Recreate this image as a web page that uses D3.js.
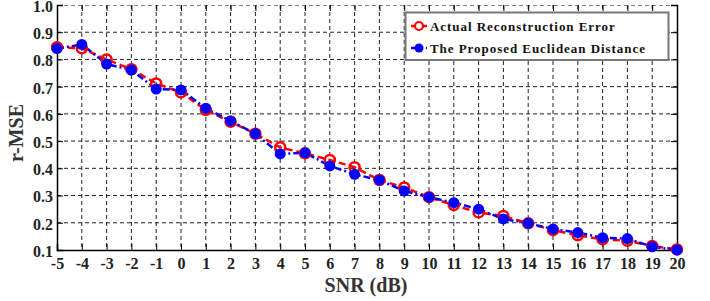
<!DOCTYPE html>
<html><head><meta charset="utf-8">
<script src="https://cdn.jsdelivr.net/npm/d3@7"></script>
<style>body{margin:0;background:#fff}svg{display:block}</style>
</head><body>
<script>
const snr = [-5,-4,-3,-2,-1,0,1,2,3,4,5,6,7,8,9,10,11,12,13,14,15,16,17,18,19,20];
const actual = [0.845,0.841,0.800,0.764,0.712,0.679,0.614,0.571,0.527,0.477,0.455,0.431,0.404,0.357,0.330,0.294,0.265,0.238,0.225,0.198,0.173,0.154,0.139,0.134,0.115,0.102];
const proposed = [0.840,0.855,0.783,0.761,0.691,0.688,0.621,0.574,0.527,0.453,0.457,0.409,0.378,0.357,0.317,0.294,0.274,0.250,0.214,0.198,0.177,0.164,0.145,0.142,0.112,0.100];
const yTicks = [0.1,0.2,0.3,0.4,0.5,0.6,0.7,0.8,0.9,1.0];
const seriesNames = ["Actual Reconstruction Error","The Proposed Euclidean Distance"];

const W=710,H=301, L=57, R=677, T=5, B=250;
const svg=d3.select("body").append("svg").attr("width",W).attr("height",H);
const x=d3.scaleLinear().domain([-5,20]).range([L,R]);
const y=d3.scaleLinear().domain([0.1,1.0]).range([B,T]);
const font="'Liberation Serif','Times New Roman',serif";

// grid
const g=svg.append("g");
g.selectAll(".vg").data(snr.slice(1,-1)).join("line")
 .attr("x1",d=>x(d)).attr("x2",d=>x(d)).attr("y1",T).attr("y2",B)
 .attr("stroke","#222").attr("stroke-width",1).attr("stroke-dasharray","4,3");
g.selectAll(".hg").data(yTicks.slice(1,-1)).join("line")
 .attr("x1",L).attr("x2",R).attr("y1",d=>y(d)).attr("y2",d=>y(d))
 .attr("stroke","#222").attr("stroke-width",1).attr("stroke-dasharray","4,3");
// top border dashed gray
g.append("line").attr("x1",L).attr("x2",R).attr("y1",T+0.5).attr("y2",T+0.5)
 .attr("stroke","#888").attr("stroke-dasharray","4,3");

// axes
const xAxis=d3.axisBottom(x).tickValues(snr).tickSize(-6).tickFormat(d=>d<0?"-"+Math.abs(d):d);
const yAxis=d3.axisLeft(y).tickValues(yTicks).tickSize(-6).tickFormat(d3.format(".1f"));
const gx=svg.append("g").attr("transform",`translate(0,${B})`).call(xAxis);
const gy=svg.append("g").attr("transform",`translate(${L},0)`).call(yAxis);
[gx,gy].forEach(a=>{
  a.select(".domain").attr("stroke","#000").attr("stroke-width",1.5);
  a.selectAll(".tick line").attr("stroke","#000").attr("stroke-width",1);
  a.selectAll("text").attr("font-family",font).attr("font-weight","bold").attr("font-size",16).attr("fill","#222");
});
gx.selectAll("text").attr("dy","0.95em").attr("y",4);
gy.selectAll("text").attr("x",-4).attr("dy","0.4em");
// top ticks and right axis
svg.append("g").attr("transform",`translate(0,${T})`).call(d3.axisTop(x).tickValues(snr).tickSize(-6).tickFormat(""))
 .call(a=>{a.select(".domain").remove();a.selectAll("line").attr("stroke","#000");});
svg.append("g").attr("transform",`translate(${R},0)`).call(d3.axisRight(y).tickValues(yTicks).tickSize(-6).tickFormat(""))
 .call(a=>{a.select(".domain").attr("stroke","#000").attr("stroke-width",1.5);a.selectAll("line").attr("stroke","#000");});

// lines
const lineA=d3.line().x((d,i)=>x(snr[i])).y(d=>y(d));
svg.append("path").datum(actual).attr("d",lineA).attr("fill","none")
 .attr("stroke","#ff0000").attr("stroke-width",2.5).attr("stroke-dasharray","7,4");
svg.append("path").datum(proposed).attr("d",lineA).attr("fill","none")
 .attr("stroke","#0000ff").attr("stroke-width",2.5).attr("stroke-dasharray","7,3,2,3");
svg.selectAll(".ma").data(actual).join("circle")
 .attr("cx",(d,i)=>x(snr[i])).attr("cy",d=>y(d)).attr("r",5)
 .attr("fill","none").attr("stroke","#ff0000").attr("stroke-width",2.5);
svg.selectAll(".mp").data(proposed).join("circle")
 .attr("cx",(d,i)=>x(snr[i])).attr("cy",d=>y(d)).attr("r",5.5)
 .attr("fill","#0000ff");

// axis titles
svg.append("text").attr("x",366).attr("y",292).attr("text-anchor","middle")
 .attr("font-family",font).attr("font-weight","bold").attr("font-size",20).attr("fill","#333").text("SNR (dB)");
svg.append("text").attr("transform","translate(23,133) rotate(-90)").attr("text-anchor","middle")
 .attr("font-family",font).attr("font-weight","bold").attr("font-size",20).attr("fill","#333").text("r-MSE");

// legend
const lg=svg.append("g");
lg.append("rect").attr("x",405.5).attr("y",12.5).attr("width",263).attr("height",47.5)
 .attr("fill","#fff").attr("stroke","#777").attr("stroke-width",2);
const rows=[{c:"#ff0000",t:seriesNames[0],yy:26,dash:"7,4"},{c:"#0000ff",t:seriesNames[1],yy:48,dash:"7,3,2,3"}];
rows.forEach((r,i)=>{
  lg.append("line").attr("x1",411).attr("x2",427).attr("y1",r.yy).attr("y2",r.yy)
   .attr("stroke",r.c).attr("stroke-width",2.5).attr("stroke-dasharray",r.dash);
  if(i===0) lg.append("circle").attr("cx",419).attr("cy",r.yy).attr("r",4).attr("fill","#fff").attr("stroke",r.c).attr("stroke-width",2.2);
  else lg.append("circle").attr("cx",419).attr("cy",r.yy).attr("r",4.5).attr("fill",r.c);
  lg.append("text").attr("x",430).attr("y",r.yy+4.5).attr("font-family",font).attr("font-weight","bold")
   .attr("font-size",13).attr("letter-spacing","0.95px").attr("fill","#111").text(r.t);
});
</script>
</body></html>
